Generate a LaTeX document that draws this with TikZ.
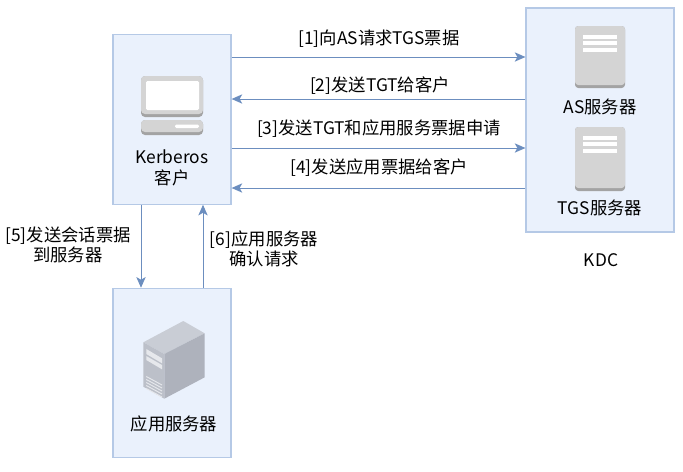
\documentclass[tikz,border=0pt]{standalone}
\usepackage{fontspec}
\setmainfont{Noto Sans CJK SC}
\usetikzlibrary{arrows.meta}
\definecolor{boxfill}{HTML}{EAF1FC}
\definecolor{boxline}{HTML}{B5C9E6}
\definecolor{flowline}{HTML}{6C8EBF}
\definecolor{icongray}{HTML}{D4D4D4}
\definecolor{icondark}{HTML}{A3A3A3}
\definecolor{towertop}{HTML}{C9CDD5}
\definecolor{towerfront}{HTML}{BCC0C9}
\definecolor{towerside}{HTML}{AEB2BC}
\definecolor{towerslot}{HTML}{E6E8EC}
\tikzset{
	hostbox/.style={draw=boxline, fill=boxfill, line width=0.9pt, inner sep=0pt, minimum width=88.5pt, minimum height=127pt},
	flow/.style={draw=flowline, line width=0.7pt, -{Stealth[length=8pt,width=7pt,inset=2pt]}},
	caption/.style={black, font=\fontsize{13}{15.5}\selectfont, align=center, inner sep=0pt},
}
\begin{document}
\begin{tikzpicture}[x=0.75pt, y=-0.75pt]
	\useasboundingbox (0,0) rectangle (683,472);
	% boxes
	\node[hostbox] (client) at (172,119.5) {};
	\node[hostbox, minimum width=111pt, minimum height=168pt] (kdc) at (600,120) {};
	\node[hostbox] (appsrv) at (172,373) {};
	% flows between client and kdc
	\coordinate (c1) at (client.east |- 0,57);
	\coordinate (k1) at (kdc.west |- 0,99);
	\coordinate (c2) at (client.east |- 0,148);
	\coordinate (k2) at (kdc.west |- 0,188);
	\draw[flow] (c1) -- (kdc.west |- c1);
	\draw[flow] (k1) -- (client.east |- k1);
	\draw[flow] (c2) -- (kdc.west |- c2);
	\draw[flow] (k2) -- (client.east |- k2);
	% flows between client and application server
	\coordinate (d1) at (141,0);
	\coordinate (u1) at (203,0);
	\draw[flow] (d1 |- client.south) -- (d1 |- appsrv.north);
	\draw[flow] (u1 |- appsrv.north) -- (u1 |- client.south);
	% labels
	\node[caption] (l1) at (379,38.5) {[1]向AS请求TGS票据};
	\node[caption] (l2) at (380,85.5) {[2]发送TGT给客户};
	\node[caption] (l3) at (379,128.5) {[3]发送TGT和应用服务票据申请};
	\node[caption] (l4) at (379,167.5) {[4]发送应用票据给客户};
	\node[caption] (l5) at (68,245) {[5]发送会话票据\\到服务器};
	\node[caption] (l6) at (264,249) {[6]应用服务器\\确认请求};
	\node[caption] (nclient) at (172,168) {Kerberos\\客户};
	\node[caption] (nas) at (600,107) {AS服务器};
	\node[caption] (ntgs) at (600,207.5) {TGS服务器};
	\node[caption] (nkdc) at (601,260) {KDC};
	\node[caption] (napp) at (174,423.5) {应用服务器};
	% desktop icon
	\fill[icondark, rounded corners=3pt] (141,76) rectangle (203,117);
	\fill[icongray, rounded corners=3pt] (141,76) rectangle (203,114);
	\fill[white, rounded corners=1pt] (146,81) rectangle (199,110);
	\fill[icondark, rounded corners=3pt] (141,120) rectangle (203,135);
	\fill[icongray, rounded corners=3pt] (141,120) rectangle (203,132);
	\fill[white, rounded corners=1pt] (175,124.5) rectangle (199,128);
	% rack icons
	\foreach \y/\h in {26/62, 127/64}{
		\fill[icondark, rounded corners=2.5pt] (575,\y) rectangle (625,\y+\h);
		\fill[icongray, rounded corners=2.5pt] (575,\y) rectangle (625,\y+\h-3);
		\foreach \s in {8.5,15,21.5}
			\fill[white] (583,\y+\s) rectangle (617,\y+\s+4);
	}
	% tower icon
	\fill[towertop] (183.3,321) -- (204.7,333.3) -- (164.3,354) -- (143.3,342.3) -- cycle;
	\fill[towerfront] (143.3,342.3) -- (164.3,354) -- (164.3,398.7) -- (143.3,386.7) -- cycle;
	\fill[towerside] (164.3,354) -- (204.7,333.3) -- (204.7,377.3) -- (164.3,398.7) -- cycle;
	\fill[towerslot] (146.3,349) -- (162,358.3) -- (162,363.3) -- (146.3,354) -- cycle;
	\fill[towerslot] (146.3,356) -- (162,365) -- (162,369.3) -- (146.3,360) -- cycle;
	\foreach \s in {0,3,...,12}
		\draw[towerslot, line width=0.7pt] (146.3,376.5+\s) -- (162,385+\s);
\end{tikzpicture}
\end{document}
